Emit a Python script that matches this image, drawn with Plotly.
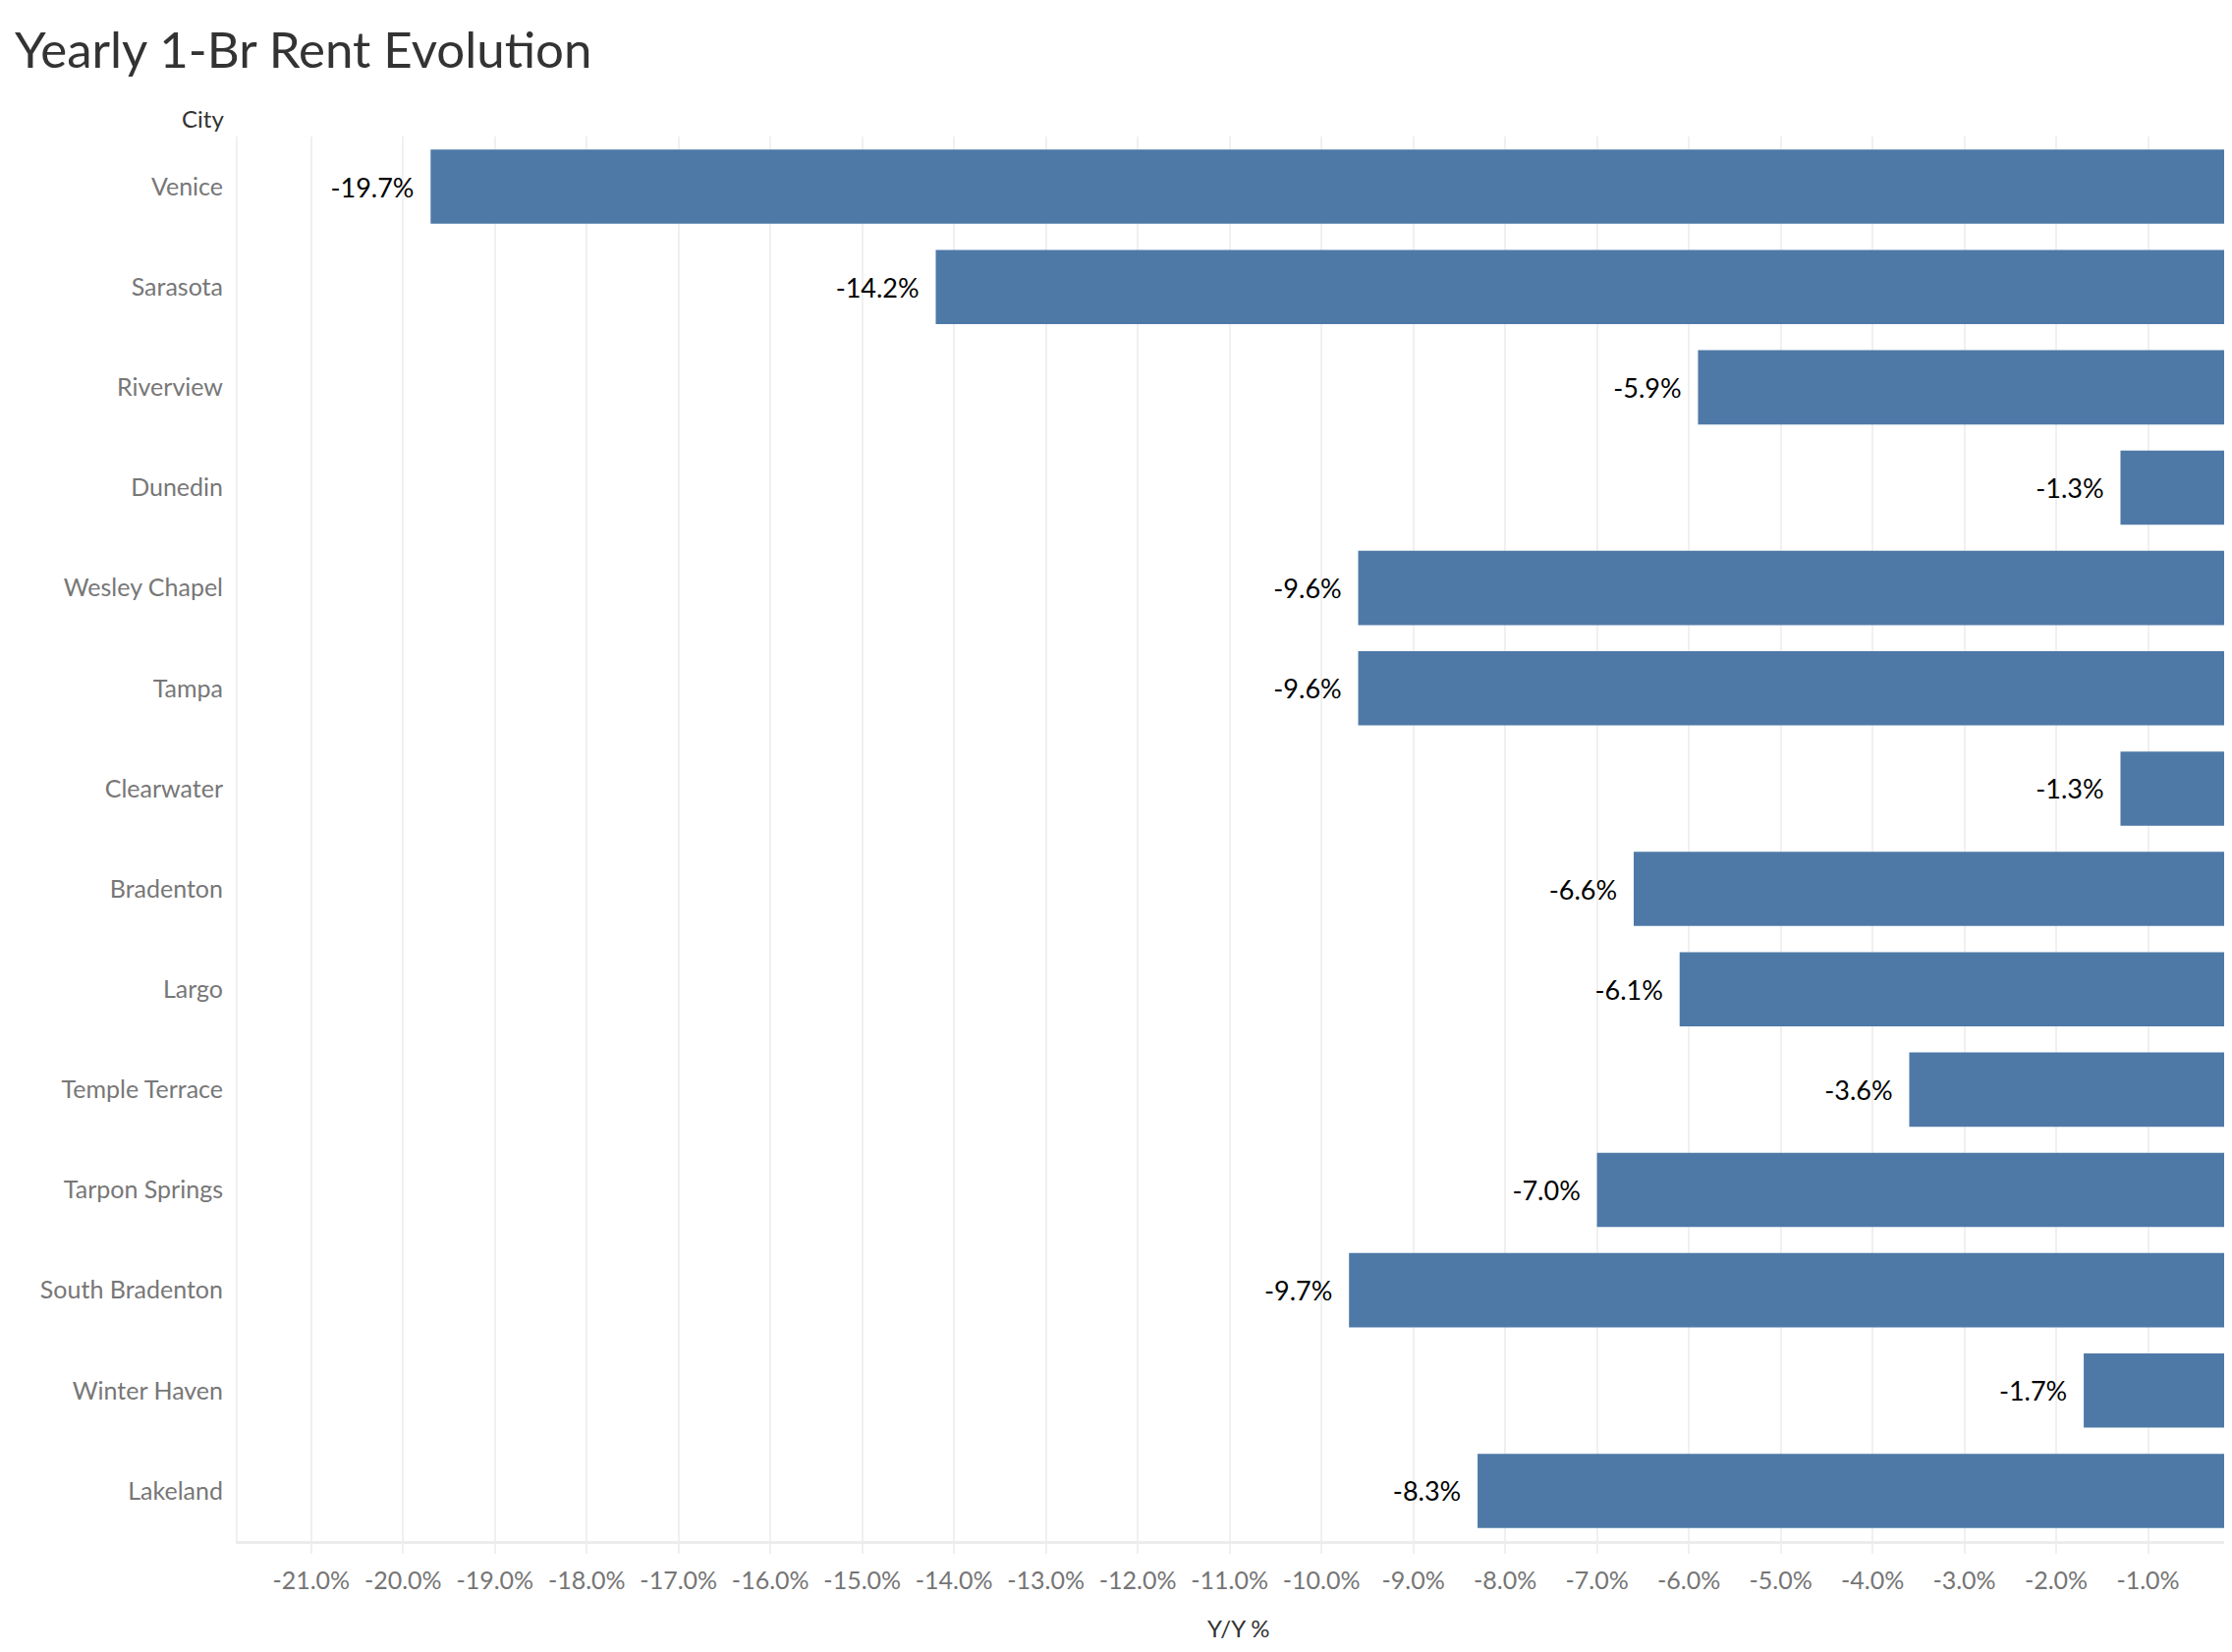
import plotly.graph_objects as go

cities = ["Venice", "Sarasota", "Riverview", "Dunedin", "Wesley Chapel", "Tampa",
          "Clearwater", "Bradenton", "Largo", "Temple Terrace", "Tarpon Springs",
          "South Bradenton", "Winter Haven", "Lakeland"]
yoy = [-19.7, -14.2, -5.9, -1.3, -9.6, -9.6, -1.3, -6.6, -6.1, -3.6, -7.0, -9.7, -1.7, -8.3]
tick_vals = list(range(-21, 0))
tick_text = [f"{v:.1f}%" for v in tick_vals]

FONT = "Lato"

fig = go.Figure()
fig.add_trace(go.Bar(
    x=yoy, y=cities, orientation="h",
    marker=dict(color="#4e79a7", line=dict(width=0)),
    width=0.74,
    # nbsp pads the label away from the bar end, like the original
    text=[f"{v:.1f}%\u00a0\u00a0" for v in yoy], textposition="outside",
    textfont=dict(family=FONT, size=27, color="#000000"),
    cliponaxis=False,
))

fig.update_layout(
    width=2272, height=1682,
    margin=dict(l=234, r=0, t=131, b=121),
    plot_bgcolor="white", paper_bgcolor="white",
    showlegend=False,
    title=dict(text="Yearly 1-Br Rent Evolution", x=7 / 2272, xref="container", xanchor="left",
               y=1 - 43 / 1682, yref="container", yanchor="middle",
               font=dict(family=FONT, size=51, color="#333333")),
    xaxis=dict(range=[-21.8, 0], tickvals=tick_vals, ticktext=tick_text,
               showgrid=True, gridcolor="#f0f0f0", gridwidth=2,
               ticks="outside", ticklen=10, tickcolor="#f0f0f0", tickwidth=2,
               showline=True, linecolor="#ececec", linewidth=3,
               zeroline=False, ticklabelstandoff=6,
               tickfont=dict(family=FONT, size=25, color="#757575")),
    yaxis=dict(autorange=False, range=[13.5, -0.5], showgrid=False,
               showline=True, linecolor="#f0f0f0", linewidth=2, ticks="",
               ticklabelstandoff=8,
               tickfont=dict(family=FONT, size=25, color="#777777")),
    annotations=[
        dict(text="City", xref="paper", yref="paper", x=-0.006, y=1.013,
             xanchor="right", yanchor="middle", showarrow=False,
             font=dict(family=FONT, size=24, color="#333333")),
        dict(text="Y/Y %", xref="paper", yref="paper", x=0.5, y=-0.062,
             xanchor="center", yanchor="middle", showarrow=False,
             font=dict(family=FONT, size=24, color="#333333")),
    ],
)

fig.write_html("out.html")
